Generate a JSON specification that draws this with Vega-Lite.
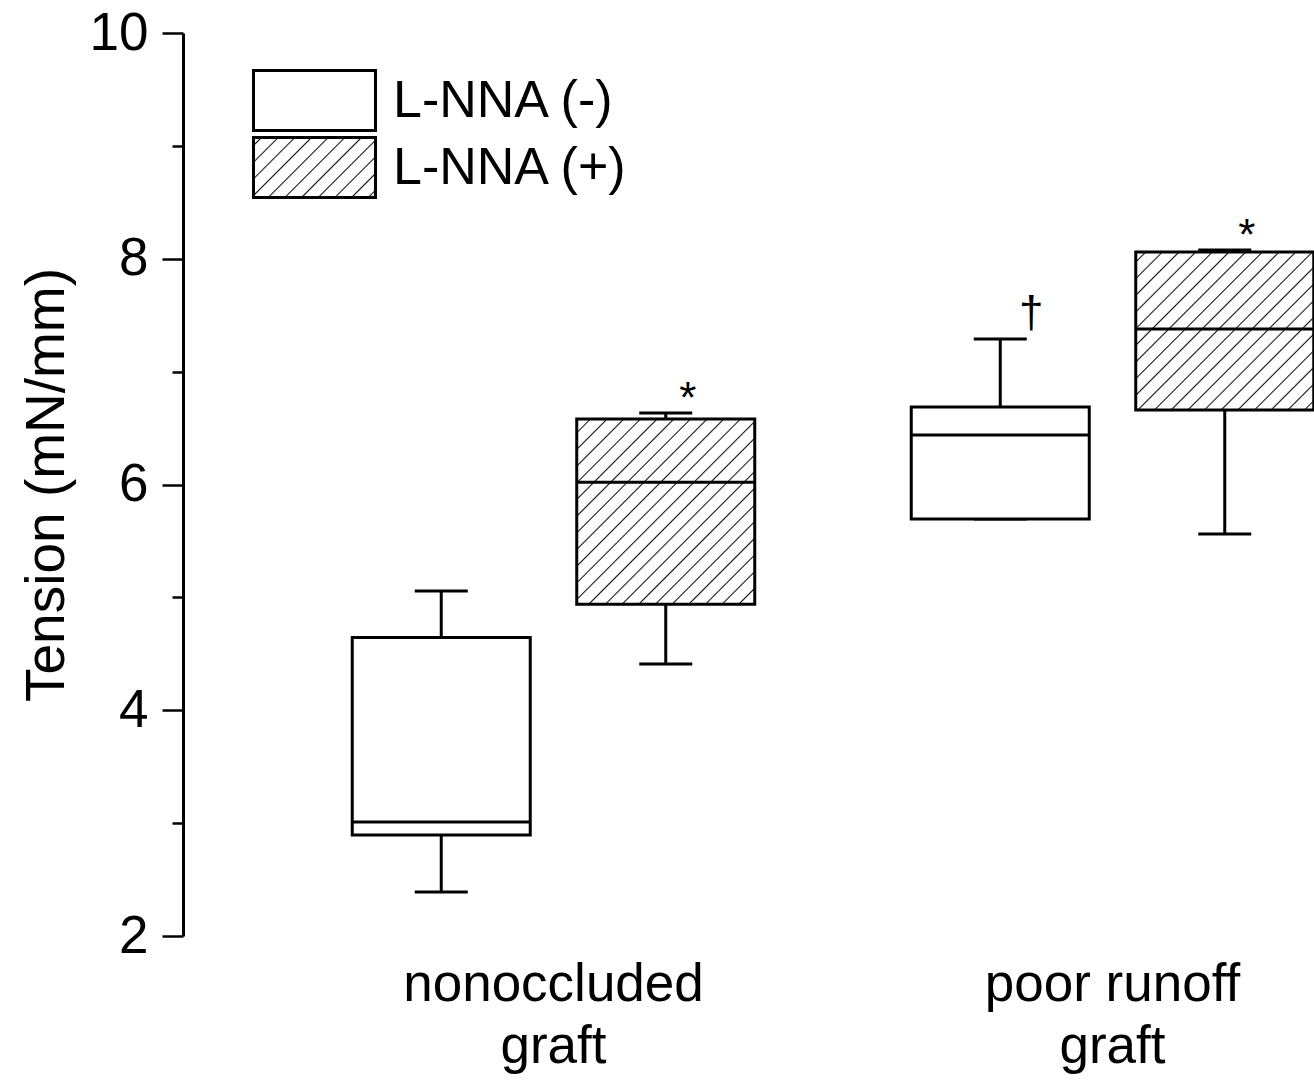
{
  "$schema": "https://vega.github.io/schema/vega-lite/v6.json",
  "autosize": "none",
  "width": 1131,
  "height": 903,
  "padding": {"left": 183, "top": 33, "right": 0, "bottom": 146},
  "background": "white",
  "config": {
    "view": {"stroke": null},
    "font": "Liberation Sans"
  },
  "data": {
    "values": [
      {"graft": "nonoccluded graft", "treatment": "L-NNA (-)", "min": 2.39, "q1": 2.895, "median": 3.01, "q3": 4.645, "max": 5.056, "sig": ""},
      {"graft": "nonoccluded graft", "treatment": "L-NNA (+)", "min": 4.41, "q1": 4.94, "median": 6.02, "q3": 6.58, "max": 6.633, "sig": "*"},
      {"graft": "poor runoff graft", "treatment": "L-NNA (-)", "min": 5.694, "q1": 5.694, "median": 6.439, "q3": 6.687, "max": 7.289, "sig": "†"},
      {"graft": "poor runoff graft", "treatment": "L-NNA (+)", "min": 5.561, "q1": 6.66, "median": 7.378, "q3": 8.06, "max": 8.078, "sig": "*"}
    ]
  },
  "encoding": {
    "x": {
      "field": "graft", "type": "nominal",
      "scale": {"domain": ["nonoccluded graft", "poor runoff graft"], "range": [146, 1154], "paddingInner": 0.1968, "paddingOuter": 0},
      "axis": {
        "title": null, "domain": false, "ticks": false, "tickSize": 0, "labelAngle": 0,
        "labelFontSize": 53, "labelFont": "Liberation Sans", "labelColor": "black",
        "labelPadding": 22, "labelLineHeight": 62, "labelLimit": 0,
        "labelExpr": "[replace(datum.label, ' graft', ''), 'graft']"
      }
    },
    "xOffset": {
      "field": "treatment", "type": "nominal",
      "scale": {"domain": ["L-NNA (-)", "L-NNA (+)"], "paddingInner": 0, "paddingOuter": 0}
    }
  },
  "resolve": {"axis": {"y": "independent"}, "scale": {"stroke": "independent"}},
  "layer": [
    {
      "mark": {
        "type": "rule", "strokeWidth": 3,
        "fill": {
          "gradient": "linear", "x1": 0, "y1": 0, "x2": 1.2012, "y2": 0.5908,
          "stops": [
            {"offset": 0, "color": "white"},
            {"offset": 0.0358, "color": "white"}, {"offset": 0.0440, "color": "#111"}, {"offset": 0.0522, "color": "white"},
            {"offset": 0.1274, "color": "white"}, {"offset": 0.1356, "color": "#111"}, {"offset": 0.1438, "color": "white"},
            {"offset": 0.2190, "color": "white"}, {"offset": 0.2272, "color": "#111"}, {"offset": 0.2354, "color": "white"},
            {"offset": 0.3106, "color": "white"}, {"offset": 0.3188, "color": "#111"}, {"offset": 0.3270, "color": "white"},
            {"offset": 0.4022, "color": "white"}, {"offset": 0.4104, "color": "#111"}, {"offset": 0.4186, "color": "white"},
            {"offset": 0.4938, "color": "white"}, {"offset": 0.5020, "color": "#111"}, {"offset": 0.5102, "color": "white"},
            {"offset": 0.5854, "color": "white"}, {"offset": 0.5936, "color": "#111"}, {"offset": 0.6018, "color": "white"},
            {"offset": 0.6770, "color": "white"}, {"offset": 0.6852, "color": "#111"}, {"offset": 0.6934, "color": "white"},
            {"offset": 0.7686, "color": "white"}, {"offset": 0.7768, "color": "#111"}, {"offset": 0.7850, "color": "white"},
            {"offset": 0.8602, "color": "white"}, {"offset": 0.8684, "color": "#111"}, {"offset": 0.8766, "color": "white"},
            {"offset": 0.9518, "color": "white"}, {"offset": 0.9600, "color": "#111"}, {"offset": 0.9682, "color": "white"},
            {"offset": 1, "color": "white"}
          ]
        }
      },
      "encoding": {
        "y": {
          "field": "min", "type": "quantitative",
          "scale": {"domain": [2, 10], "nice": false, "zero": false},
          "axis": {
            "orient": "left", "values": [2, 4, 6, 8, 10], "grid": false,
            "tickSize": 21, "tickWidth": 2.5, "tickColor": "black",
            "domainColor": "black", "domainWidth": 3,
            "labelFontSize": 53, "labelFont": "Liberation Sans", "labelColor": "black", "labelPadding": 14,
            "title": "Tension (mN/mm)", "titleFontSize": 55, "titleFont": "Liberation Sans",
            "titleFontWeight": "normal", "titleColor": "black", "titlePadding": 14
          }
        },
        "y2": {"field": "max"},
        "stroke": {
          "datum": "L-NNA (+)", "type": "nominal",
          "scale": {"domain": ["L-NNA (+)"], "range": ["black"]},
          "legend": {
            "orient": "none", "legendX": 100, "legendY": 103, "title": null, "padding": 0,
            "symbolType": "M-2.033,-1H2.033V1H-2.033Z", "symbolSize": 3600,
            "symbolStrokeWidth": 3, "symbolOpacity": 1,
            "labelFontSize": 52, "labelFont": "Liberation Sans", "labelColor": "black",
            "labelOffset": 47, "labelLimit": 0
          }
        }
      }
    },
    {
      "mark": {"type": "tick", "color": "black", "size": 53, "thickness": 3, "opacity": 1},
      "encoding": {
        "y": {
          "field": "min", "type": "quantitative",
          "axis": {
            "orient": "left", "values": [3, 5, 7, 9], "grid": false, "labels": false, "domain": false,
            "tickSize": 11, "tickWidth": 2.5, "tickColor": "black", "title": null
          }
        }
      }
    },
    {
      "mark": {"type": "tick", "color": "black", "size": 53, "thickness": 3, "opacity": 1},
      "encoding": {
        "y": {"field": "max", "type": "quantitative", "axis": null}
      }
    },
    {
      "transform": [{"filter": "datum.treatment == 'L-NNA (-)'"}],
      "mark": {"type": "bar", "size": 178, "fill": "white", "strokeWidth": 3, "opacity": 1},
      "encoding": {
        "y": {"field": "q1", "type": "quantitative", "axis": null},
        "y2": {"field": "q3"},
        "stroke": {
          "field": "treatment", "type": "nominal",
          "scale": {"domain": ["L-NNA (-)"], "range": ["black"]},
          "legend": {
            "orient": "none", "legendX": 100, "legendY": 36, "title": null, "padding": 0,
            "symbolType": "M-2.033,-1H2.033V1H-2.033Z", "symbolSize": 3600,
            "symbolStrokeWidth": 3, "symbolStrokeColor": "black", "symbolFillColor": "white",
            "labelFontSize": 52, "labelFont": "Liberation Sans", "labelColor": "black",
            "labelOffset": 47, "labelLimit": 0
          }
        }
      }
    },
    {
      "transform": [{"filter": "datum.treatment == 'L-NNA (+)' && datum.graft == 'nonoccluded graft'"}],
      "mark": {
        "type": "bar", "size": 178, "stroke": "black", "strokeWidth": 3, "opacity": 1,
        "fill": {
          "gradient": "linear", "x1": 0, "y1": 0, "x2": 0.9804, "y2": 1.0189,
          "stops": [
            {"offset": 0, "color": "white"},
            {"offset": 0.0336, "color": "white"}, {"offset": 0.0377, "color": "#111"}, {"offset": 0.0418, "color": "white"},
            {"offset": 0.0796, "color": "white"}, {"offset": 0.0837, "color": "#111"}, {"offset": 0.0878, "color": "white"},
            {"offset": 0.1255, "color": "white"}, {"offset": 0.1296, "color": "#111"}, {"offset": 0.1337, "color": "white"},
            {"offset": 0.1714, "color": "white"}, {"offset": 0.1755, "color": "#111"}, {"offset": 0.1796, "color": "white"},
            {"offset": 0.2173, "color": "white"}, {"offset": 0.2214, "color": "#111"}, {"offset": 0.2255, "color": "white"},
            {"offset": 0.2633, "color": "white"}, {"offset": 0.2674, "color": "#111"}, {"offset": 0.2715, "color": "white"},
            {"offset": 0.3092, "color": "white"}, {"offset": 0.3133, "color": "#111"}, {"offset": 0.3174, "color": "white"},
            {"offset": 0.3551, "color": "white"}, {"offset": 0.3592, "color": "#111"}, {"offset": 0.3633, "color": "white"},
            {"offset": 0.4010, "color": "white"}, {"offset": 0.4051, "color": "#111"}, {"offset": 0.4092, "color": "white"},
            {"offset": 0.4469, "color": "white"}, {"offset": 0.4510, "color": "#111"}, {"offset": 0.4551, "color": "white"},
            {"offset": 0.4929, "color": "white"}, {"offset": 0.4970, "color": "#111"}, {"offset": 0.5011, "color": "white"},
            {"offset": 0.5388, "color": "white"}, {"offset": 0.5429, "color": "#111"}, {"offset": 0.5470, "color": "white"},
            {"offset": 0.5847, "color": "white"}, {"offset": 0.5888, "color": "#111"}, {"offset": 0.5929, "color": "white"},
            {"offset": 0.6306, "color": "white"}, {"offset": 0.6347, "color": "#111"}, {"offset": 0.6388, "color": "white"},
            {"offset": 0.6766, "color": "white"}, {"offset": 0.6807, "color": "#111"}, {"offset": 0.6848, "color": "white"},
            {"offset": 0.7225, "color": "white"}, {"offset": 0.7266, "color": "#111"}, {"offset": 0.7307, "color": "white"},
            {"offset": 0.7684, "color": "white"}, {"offset": 0.7725, "color": "#111"}, {"offset": 0.7766, "color": "white"},
            {"offset": 0.8143, "color": "white"}, {"offset": 0.8184, "color": "#111"}, {"offset": 0.8225, "color": "white"},
            {"offset": 0.8603, "color": "white"}, {"offset": 0.8644, "color": "#111"}, {"offset": 0.8685, "color": "white"},
            {"offset": 0.9062, "color": "white"}, {"offset": 0.9103, "color": "#111"}, {"offset": 0.9144, "color": "white"},
            {"offset": 0.9521, "color": "white"}, {"offset": 0.9562, "color": "#111"}, {"offset": 0.9603, "color": "white"},
            {"offset": 1, "color": "white"}
          ]
        }
      },
      "encoding": {
        "y": {"field": "q1", "type": "quantitative", "axis": null},
        "y2": {"field": "q3"}
      }
    },
    {
      "transform": [{"filter": "datum.treatment == 'L-NNA (+)' && datum.graft == 'poor runoff graft'"}],
      "mark": {
        "type": "bar", "size": 178, "stroke": "black", "strokeWidth": 3, "opacity": 1,
        "fill": {
          "gradient": "linear", "x1": 0, "y1": 0, "x2": 1.0558, "y2": 0.9371,
          "stops": [
            {"offset": 0, "color": "white"},
            {"offset": 0.0253, "color": "white"}, {"offset": 0.0298, "color": "#111"}, {"offset": 0.0343, "color": "white"},
            {"offset": 0.0749, "color": "white"}, {"offset": 0.0794, "color": "#111"}, {"offset": 0.0839, "color": "white"},
            {"offset": 0.1245, "color": "white"}, {"offset": 0.1290, "color": "#111"}, {"offset": 0.1335, "color": "white"},
            {"offset": 0.1741, "color": "white"}, {"offset": 0.1786, "color": "#111"}, {"offset": 0.1831, "color": "white"},
            {"offset": 0.2237, "color": "white"}, {"offset": 0.2282, "color": "#111"}, {"offset": 0.2327, "color": "white"},
            {"offset": 0.2733, "color": "white"}, {"offset": 0.2778, "color": "#111"}, {"offset": 0.2823, "color": "white"},
            {"offset": 0.3230, "color": "white"}, {"offset": 0.3275, "color": "#111"}, {"offset": 0.3320, "color": "white"},
            {"offset": 0.3726, "color": "white"}, {"offset": 0.3771, "color": "#111"}, {"offset": 0.3816, "color": "white"},
            {"offset": 0.4222, "color": "white"}, {"offset": 0.4267, "color": "#111"}, {"offset": 0.4312, "color": "white"},
            {"offset": 0.4718, "color": "white"}, {"offset": 0.4763, "color": "#111"}, {"offset": 0.4808, "color": "white"},
            {"offset": 0.5214, "color": "white"}, {"offset": 0.5259, "color": "#111"}, {"offset": 0.5304, "color": "white"},
            {"offset": 0.5710, "color": "white"}, {"offset": 0.5755, "color": "#111"}, {"offset": 0.5800, "color": "white"},
            {"offset": 0.6206, "color": "white"}, {"offset": 0.6251, "color": "#111"}, {"offset": 0.6296, "color": "white"},
            {"offset": 0.6702, "color": "white"}, {"offset": 0.6747, "color": "#111"}, {"offset": 0.6792, "color": "white"},
            {"offset": 0.7199, "color": "white"}, {"offset": 0.7244, "color": "#111"}, {"offset": 0.7289, "color": "white"},
            {"offset": 0.7695, "color": "white"}, {"offset": 0.7740, "color": "#111"}, {"offset": 0.7785, "color": "white"},
            {"offset": 0.8191, "color": "white"}, {"offset": 0.8236, "color": "#111"}, {"offset": 0.8281, "color": "white"},
            {"offset": 0.8687, "color": "white"}, {"offset": 0.8732, "color": "#111"}, {"offset": 0.8777, "color": "white"},
            {"offset": 0.9183, "color": "white"}, {"offset": 0.9228, "color": "#111"}, {"offset": 0.9273, "color": "white"},
            {"offset": 0.9679, "color": "white"}, {"offset": 0.9724, "color": "#111"}, {"offset": 0.9769, "color": "white"},
            {"offset": 1, "color": "white"}
          ]
        }
      },
      "encoding": {
        "y": {"field": "q1", "type": "quantitative", "axis": null},
        "y2": {"field": "q3"}
      }
    },
    {
      "mark": {"type": "tick", "color": "black", "size": 178, "thickness": 3, "opacity": 1},
      "encoding": {
        "y": {"field": "median", "type": "quantitative", "axis": null}
      }
    },
    {
      "transform": [{"filter": "datum.sig == '*'"}],
      "mark": {"type": "text", "fontSize": 44, "font": "Liberation Sans", "dx": 22, "baseline": "alphabetic", "align": "center", "color": "black"},
      "encoding": {
        "y": {"field": "max", "type": "quantitative", "axis": null},
        "text": {"field": "sig"}
      }
    },
    {
      "transform": [{"filter": "datum.sig == '†'"}],
      "mark": {"type": "text", "fontSize": 44, "font": "Liberation Sans", "dx": 31, "dy": -12, "baseline": "alphabetic", "align": "center", "color": "black"},
      "encoding": {
        "y": {"field": "max", "type": "quantitative", "axis": null},
        "text": {"field": "sig"}
      }
    }
  ]
}
